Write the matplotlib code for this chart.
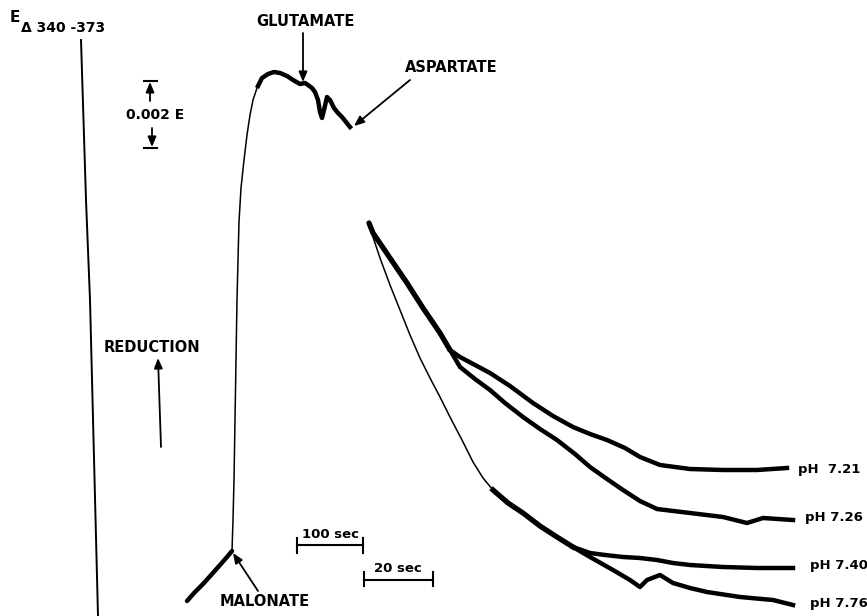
import matplotlib
matplotlib.use("Agg")
import matplotlib.pyplot as plt

# traces (x, y in chart pixels, y grows downward)
baseline_x = [81, 86, 90, 98]
baseline_y = [40, 200, 300, 616]

pre_x = [187, 195, 203, 212, 220, 227, 232]
pre_y = [601, 592, 584, 574, 565, 557, 551]

rise_x = [232, 233, 234, 235, 236, 237, 238, 239, 241, 244, 247, 250, 253, 257, 262, 268]
rise_y = [551, 520, 480, 420, 360, 300, 260, 222, 188, 160, 135, 115, 100, 88, 78, 74]

top_x = [258, 262, 268, 274, 280, 287, 293, 300, 305, 308, 312, 315, 318, 320, 322, 324, 327,
         330, 334, 338, 342, 346, 350]
top_y = [86, 78, 74, 72, 73, 76, 80, 84, 83, 85, 88, 92, 100, 112, 118, 110, 97,
         100, 108, 113, 117, 122, 127]

pair_x = [369, 373, 390, 407, 423, 440, 450]
pair_y = [223, 233, 258, 283, 308, 333, 350]

ph721_x = [450, 460, 475, 490, 510, 533, 553, 573, 590, 607, 625, 640, 660, 690, 723, 757, 787]
ph721_y = [350, 357, 365, 373, 386, 403, 416, 427, 434, 440, 448, 457, 465, 469, 470, 470, 468]

ph726_x = [450, 460, 475, 490, 505, 523, 540, 557, 575, 590, 607, 623, 640, 657, 690, 723, 747,
           763, 793]
ph726_y = [350, 367, 379, 390, 403, 417, 429, 440, 454, 467, 479, 490, 501, 509, 513, 517, 523,
           518, 520]

thin_x = [369, 380, 390, 400, 410, 420, 430, 440, 450, 462, 473, 483, 493]
thin_y = [225, 258, 285, 310, 335, 358, 378, 397, 417, 440, 462, 478, 490]

shared_x = [493, 508, 523, 540, 557, 573]
shared_y = [490, 503, 513, 526, 537, 547]

ph740_x = [573, 590, 605, 623, 640, 657, 673, 690, 723, 757, 793]
ph740_y = [547, 553, 555, 557, 558, 560, 563, 565, 567, 568, 568]

ph776_x = [573, 590, 613, 630, 640, 647, 660, 673, 690, 707, 740, 773, 793]
ph776_y = [547, 557, 570, 580, 587, 580, 575, 583, 588, 592, 597, 600, 605]

ph_labels = ["pH  7.21", "pH 7.26", "pH 7.40", "pH 7.76"]
ph_label_x = [798, 805, 810, 810]
ph_label_y = [470, 518, 565, 604]

fig = plt.figure(figsize=(8.67, 6.16), dpi=100)
ax = fig.add_axes([0, 0, 1, 1])
ax.set_xlim(0, 867)
ax.set_ylim(616, 0)
ax.axis("off")

k = "black"
thick = 3.2
thin = 1.1

ax.plot(baseline_x, baseline_y, color=k, lw=1.4)
ax.plot(pre_x, pre_y, color=k, lw=thick, solid_capstyle="round")
ax.plot(rise_x, rise_y, color=k, lw=thin)
ax.plot(top_x, top_y, color=k, lw=thick, solid_joinstyle="round")
ax.plot(pair_x, pair_y, color=k, lw=thick + 0.6, solid_capstyle="round")
ax.plot(ph721_x, ph721_y, color=k, lw=thick)
ax.plot(ph726_x, ph726_y, color=k, lw=thick)
ax.plot(thin_x, thin_y, color=k, lw=thin)
ax.plot(shared_x, shared_y, color=k, lw=thick + 0.6)
ax.plot(ph740_x, ph740_y, color=k, lw=thick)
ax.plot(ph776_x, ph776_y, color=k, lw=thick)

font = dict(color=k, fontweight="bold", family="DejaVu Sans")

for lab, x, y in zip(ph_labels, ph_label_x, ph_label_y):
    ax.text(x, y, lab, fontsize=9.5, ha="left", va="center", **font)

ax.text(10, 18, "E", fontsize=11, ha="left", va="center", **font)
ax.text(21, 28, "Δ 340 -373", fontsize=10, ha="left", va="center", **font)

arrow = dict(arrowstyle="-|>,head_length=0.6,head_width=0.25", color=k, lw=1.3,
             shrinkA=0, shrinkB=0)

ax.text(305, 22, "GLUTAMATE", fontsize=10.5, ha="center", va="center", **font)
ax.annotate("", xy=(303, 82), xytext=(303, 33), arrowprops=arrow)

ax.text(451, 68, "ASPARTATE", fontsize=10.5, ha="center", va="center", **font)
ax.annotate("", xy=(354, 126), xytext=(410, 80), arrowprops=arrow)

ax.text(265, 602, "MALONATE", fontsize=10.5, ha="center", va="center", **font)
ax.annotate("", xy=(233, 553), xytext=(258, 591), arrowprops=arrow)

ax.text(152, 347, "REDUCTION", fontsize=10.5, ha="center", va="center", **font)
ax.annotate("", xy=(158, 358), xytext=(161, 447), arrowprops=arrow)

# 0.002 E scale mark
ax.text(155, 115, "0.002 E", fontsize=10, ha="center", va="center", **font)
ax.plot([144, 157], [81, 81], color=k, lw=1.5)
ax.annotate("", xy=(150, 82), xytext=(150, 101), arrowprops=arrow)
ax.plot([144, 157], [148, 148], color=k, lw=1.5)
ax.annotate("", xy=(152, 147), xytext=(152, 128), arrowprops=arrow)

# time scale bars
ax.plot([297, 363], [545, 545], color=k, lw=1.5)
ax.plot([297, 297], [538, 553], color=k, lw=1.5)
ax.plot([363, 363], [538, 553], color=k, lw=1.5)
ax.text(330, 535, "100 sec", fontsize=9.5, ha="center", va="center", **font)

ax.plot([364, 433], [580, 580], color=k, lw=1.5)
ax.plot([364, 364], [572, 586], color=k, lw=1.5)
ax.plot([433, 433], [572, 586], color=k, lw=1.5)
ax.text(398, 569, "20 sec", fontsize=9.5, ha="center", va="center", **font)

fig.savefig("out.png", dpi=100, facecolor="white")
